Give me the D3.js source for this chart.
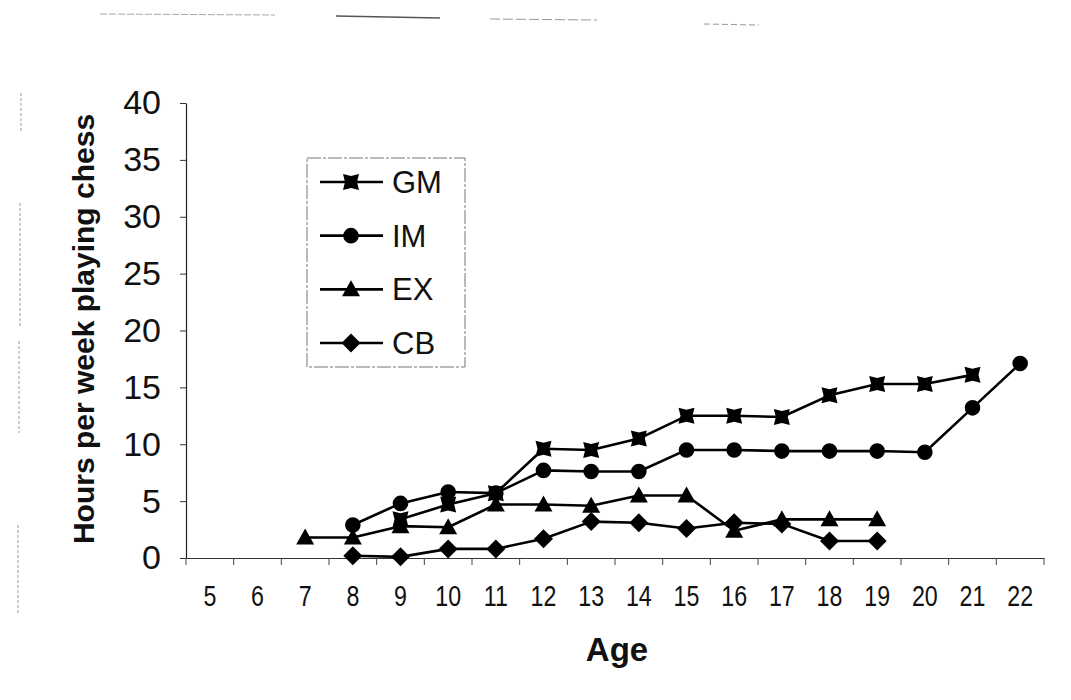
<!DOCTYPE html>
<html>
<head>
<meta charset="utf-8">
<script src="https://cdn.jsdelivr.net/npm/d3@7/dist/d3.min.js"></script>
<style>
  html, body { margin: 0; padding: 0; background: #fff; }
  svg { display: block; font-family: "Liberation Sans", Arial, sans-serif; }
</style>
</head>
<body>
<svg id="chart" width="1071" height="700"></svg>
<script>
// Weekly hours of chess play by age, per player group
const ages = [5, 6, 7, 8, 9, 10, 11, 12, 13, 14, 15, 16, 17, 18, 19, 20, 21, 22];
const yTicks = [0, 5, 10, 15, 20, 25, 30, 35, 40];

const gmAges = [9, 10, 11, 12, 13, 14, 15, 16, 17, 18, 19, 20, 21];
const gmHours = [3.4, 4.7, 5.7, 9.6, 9.5, 10.5, 12.5, 12.5, 12.4, 14.3, 15.3, 15.3, 16.1];

const imAges = [8, 9, 10, 11, 12, 13, 14, 15, 16, 17, 18, 19, 20, 21, 22];
const imHours = [2.9, 4.8, 5.8, 5.7, 7.7, 7.6, 7.6, 9.5, 9.5, 9.4, 9.4, 9.4, 9.3, 13.2, 17.1];

const exAges = [7, 8, 9, 10, 11, 12, 13, 14, 15, 16, 17, 18, 19];
const exHours = [1.8, 1.8, 2.8, 2.7, 4.7, 4.7, 4.6, 5.5, 5.5, 2.4, 3.4, 3.4, 3.4];

const cbAges = [8, 9, 10, 11, 12, 13, 14, 15, 16, 17, 18, 19];
const cbHours = [0.2, 0.1, 0.8, 0.8, 1.7, 3.2, 3.1, 2.6, 3.1, 3.0, 1.5, 1.5];

const seriesNames = ["GM", "IM", "EX", "CB"];
const series = [
  { name: "GM", marker: "pinch", ages: gmAges, hours: gmHours },
  { name: "IM", marker: "circle", ages: imAges, hours: imHours },
  { name: "EX", marker: "triangle", ages: exAges, hours: exHours },
  { name: "CB", marker: "diamond", ages: cbAges, hours: cbHours }
];

const svg = d3.select("#chart");

const x = d3.scaleBand().domain(ages).range([186, 1044]).paddingInner(0).paddingOuter(0);
const y = d3.scaleLinear().domain([0, 40]).range([558, 103]);
const cx = a => x(a) + x.bandwidth() / 2;

// faint page-frame remnants around the chart area
const frame = svg.append("g").attr("fill", "none").attr("stroke-width", 1);
frame.append("path").attr("d", "M100,14 L275,15").attr("stroke", "#aaa").attr("stroke-dasharray", "7,2");
frame.append("path").attr("d", "M336,16 L440,18").attr("stroke", "#555").attr("stroke-width", 1.5);
frame.append("path").attr("d", "M490,19 L597,20").attr("stroke", "#999").attr("stroke-dasharray", "10,3");
frame.append("path").attr("d", "M704,24 L759,25").attr("stroke", "#999").attr("stroke-dasharray", "6,3");
frame.append("path").attr("d", "M21,93 L21,132 M20,203 L20,326 M19,341 L19,433 M18,525 L18,614")
  .attr("stroke", "#999").attr("stroke-dasharray", "3,2");

// y axis
const yAxis = svg.append("g")
  .attr("transform", "translate(186,0)")
  .call(d3.axisLeft(y).tickValues(yTicks).tickSize(6).tickPadding(19).tickSizeOuter(0));
yAxis.select(".domain").attr("stroke", "#222").attr("stroke-width", 1.2);
yAxis.selectAll(".tick line").attr("stroke", "#333");
yAxis.selectAll(".tick text").attr("font-size", 34).attr("fill", "#111")
  .attr("font-family", "'Liberation Sans', Arial, sans-serif");

// x axis: narrow labels centred on categories, ticks on category boundaries
const xAxis = svg.append("g")
  .attr("transform", "translate(0,558)")
  .call(d3.axisBottom(x).tickSize(0).tickSizeOuter(0));
xAxis.select(".domain").attr("stroke", "#333").attr("stroke-width", 1.2);
xAxis.selectAll(".tick text")
  .attr("y", 48).attr("dy", null)
  .attr("transform", "scale(0.8,1)")
  .attr("font-size", 29).attr("fill", "#111")
  .attr("font-family", "'Liberation Sans', Arial, sans-serif");
const bounds = ages.map(a => x(a)).concat([x(ages[ages.length - 1]) + x.bandwidth()]);
svg.append("g").selectAll("line").data(bounds).join("line")
  .attr("x1", d => d).attr("x2", d => d)
  .attr("y1", 558).attr("y2", 565)
  .attr("stroke", "#444").attr("stroke-width", 1);

// axis titles
svg.append("text")
  .attr("transform", "translate(83,329) rotate(-90)")
  .attr("text-anchor", "middle").attr("dy", "0.35em")
  .attr("font-size", 30).attr("font-weight", "bold").attr("fill", "#111")
  .text("Hours per week playing chess");
svg.append("text")
  .attr("x", 617).attr("y", 661)
  .attr("text-anchor", "middle")
  .attr("font-size", 33).attr("font-weight", "bold").attr("fill", "#111")
  .text("Age");

// marker shapes
function markerPath(kind) {
  switch (kind) {
    case "pinch": {
      const c = 8, m = 6;
      return `M${-c},${-c} L0,${-m} L${c},${-c} L${m},0 L${c},${c} L0,${m} L${-c},${c} L${-m},0 Z`;
    }
    case "circle":
      return d3.symbol().type(d3.symbolCircle).size(Math.PI * 7.8 * 7.8)();
    case "triangle":
      return "M0,-9 L9,7 L-9,7 Z";
    case "diamond":
      return "M0,-9.5 L9.5,0 L0,9.5 L-9.5,0 Z";
  }
}

const line = d3.line().x(d => cx(d.a)).y(d => y(d.h));

series.forEach(s => {
  const pts = s.ages.map((a, i) => ({ a: a, h: s.hours[i] }));
  const g = svg.append("g").attr("class", "series-" + s.name);
  g.append("path").datum(pts)
    .attr("d", line)
    .attr("fill", "none").attr("stroke", "#000").attr("stroke-width", 2.6)
    .attr("stroke-linejoin", "round");
  g.selectAll("path.mk").data(pts).join("path")
    .attr("class", "mk")
    .attr("d", markerPath(s.marker))
    .attr("transform", d => `translate(${cx(d.a)},${y(d.h)})`)
    .attr("fill", "#000");
});

// legend
const legend = svg.append("g");
legend.append("rect")
  .attr("x", 307).attr("y", 158).attr("width", 158).attr("height", 209)
  .attr("fill", "#fff").attr("stroke", "#777").attr("stroke-width", 1)
  .attr("stroke-dasharray", "14,2,3,2");
const legendY = d3.scalePoint().domain(seriesNames).range([182, 343]);
series.forEach(s => {
  const ly = legendY(s.name);
  legend.append("line")
    .attr("x1", 320).attr("x2", 383).attr("y1", ly).attr("y2", ly)
    .attr("stroke", "#000").attr("stroke-width", 2.6);
  legend.append("path")
    .attr("d", markerPath(s.marker))
    .attr("transform", `translate(351,${ly})`)
    .attr("fill", "#000");
  legend.append("text")
    .attr("x", 392).attr("y", ly).attr("dy", "0.36em")
    .attr("font-size", 31).attr("fill", "#111")
    .text(s.name);
});
</script>
</body>
</html>
